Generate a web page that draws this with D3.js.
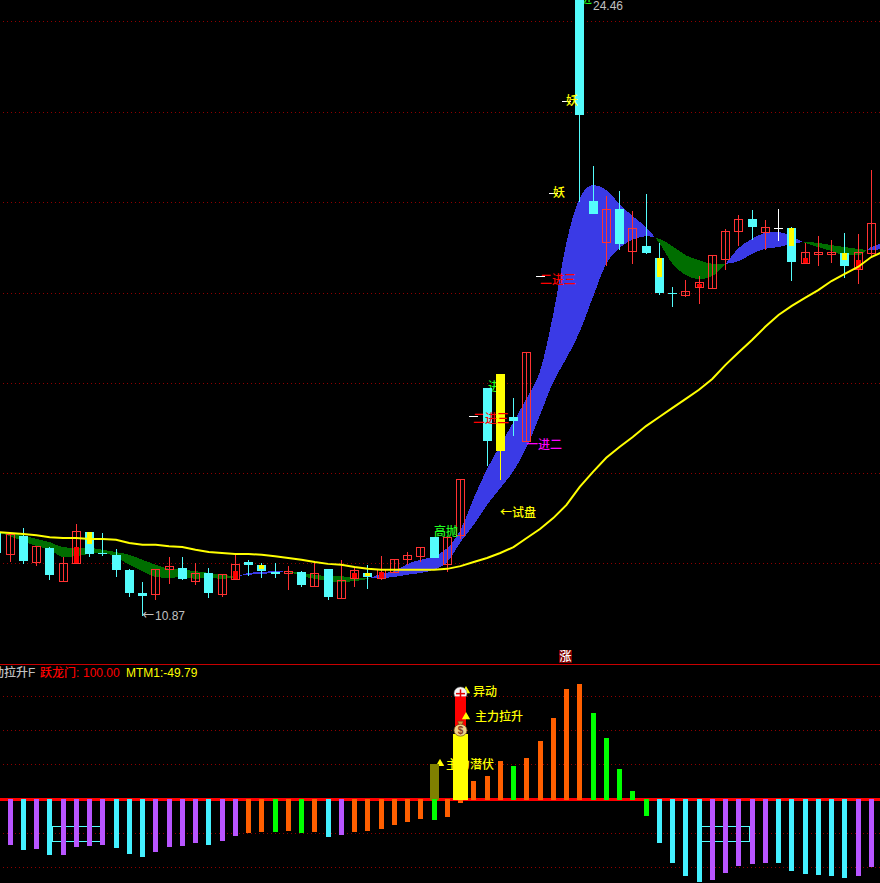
<!DOCTYPE html>
<meta charset="utf-8">
<style>
  html, body { margin: 0; padding: 0; background: #000; overflow: hidden; }
  text { font-family: "Noto Sans CJK SC", sans-serif; font-size: 12px; font-weight: 500; }
  .num { font-family: "Liberation Sans", sans-serif; font-weight: 400; }
</style>
<script src="https://d3js.org/d3.v7.min.js"></script>
<svg id="chart" width="880" height="883"></svg>

<script>
  // candles, first one is the sliver cut off at the left edge (index -1)
  var opens = [12.70, 12.24, 12.63, 12.06, 12.37, 11.64, 12.04, 12.72, 12.26, 12.22, 11.89, 11.38, 11.36, 11.91, 11.93, 11.64, 11.82, 11.36, 11.69, 12.06, 12.00, 11.84, 11.82, 11.84, 11.53, 11.91, 11.27, 11.71, 11.82, 11.71, 11.84, 12.13, 12.19, 12.61, 12.02, 12.65, 15.28, 15.90, 16.21, 15.26, 14.73, 18.37, 20.20, 22.23, 24.46, 20.03, 19.12, 19.85, 18.92, 19.03, 18.77, 18.00, 17.95, 18.13, 18.11, 18.75, 19.36, 19.63, 19.34, 19.43, 19.43, 18.66, 18.86, 18.86, 18.88, 18.53, 18.88];
  var highs = [12.77, 12.68, 12.81, 12.41, 12.39, 12.17, 12.90, 12.72, 12.70, 12.35, 11.91, 11.62, 11.91, 12.17, 12.17, 12.04, 11.93, 11.80, 12.22, 12.11, 12.04, 12.04, 11.97, 11.86, 12.08, 11.91, 12.11, 11.93, 12.00, 12.19, 12.13, 12.28, 12.39, 12.61, 12.61, 13.89, 15.28, 15.90, 16.21, 15.68, 16.69, 18.37, 20.20, 22.23, 24.46, 20.80, 20.14, 20.25, 19.81, 20.18, 19.10, 18.13, 18.28, 18.37, 18.83, 19.41, 19.72, 19.83, 19.61, 19.85, 19.45, 19.10, 19.25, 19.17, 19.32, 19.30, 20.71];
  var lows = [12.22, 12.06, 12.02, 11.97, 11.66, 11.64, 12.04, 12.17, 12.19, 11.73, 11.29, 10.87, 11.22, 11.58, 11.66, 11.55, 11.27, 11.29, 11.69, 11.75, 11.71, 11.71, 11.44, 11.51, 11.53, 11.22, 11.27, 11.51, 11.47, 11.66, 11.84, 12.00, 12.06, 12.15, 11.84, 12.57, 15.28, 14.18, 13.87, 14.84, 14.73, 18.37, 20.20, 22.23, 20.00, 19.74, 18.59, 18.94, 18.64, 18.86, 17.95, 17.69, 17.91, 17.75, 18.08, 18.50, 19.03, 19.17, 18.94, 19.14, 18.26, 18.66, 18.59, 18.66, 18.33, 18.19, 18.77];
  var closes = [12.26, 12.68, 12.08, 12.41, 11.78, 12.04, 12.74, 12.24, 12.24, 11.89, 11.38, 11.31, 11.91, 11.97, 11.69, 11.82, 11.38, 11.80, 12.02, 12.00, 11.86, 11.80, 11.86, 11.55, 11.82, 11.29, 11.66, 11.89, 11.73, 11.91, 12.13, 12.22, 12.39, 12.15, 12.61, 13.89, 15.28, 14.73, 14.51, 15.17, 16.69, 18.37, 20.20, 22.23, 21.92, 19.74, 19.85, 19.08, 19.43, 18.88, 18.00, 17.97, 18.04, 18.24, 18.83, 19.36, 19.63, 19.45, 19.45, 19.43, 18.68, 18.90, 18.90, 18.90, 18.59, 18.90, 19.54];
  var yellowCandle = 37;

  // narrow sticks drawn inside some candles
  var stickIdx = [5, 6, 17, 19, 26, 27, 28, 49, 52, 59, 60, 63, 64];
  var stickTop = [12.39, 12.72, 11.86, 12.00, 11.82, 11.82, 11.84, 18.77, 18.19, 19.43, 18.77, 18.88, 18.72];
  var stickBottom = [12.04, 12.46, 11.69, 11.91, 11.71, 11.75, 11.71, 18.35, 18.13, 19.03, 18.66, 18.72, 18.53];
  var stickKind = ["up", "warm", "up", "warm", "up", "warm", "up", "warm", "up", "warm", "up", "warm", "up"];

  // moving averages, index -1 .. 66 so they run off both edges
  var maFast = [12.72, 12.63, 12.52, 12.41, 12.33, 12.17, 12.19, 12.24, 12.26, 12.17, 12.00, 11.86, 11.73, 11.71, 11.73, 11.69, 11.71, 11.69, 11.73, 11.82, 11.84, 11.86, 11.84, 11.75, 11.69, 11.64, 11.62, 11.64, 11.69, 11.80, 11.86, 12.02, 12.11, 12.19, 12.37, 12.77, 13.47, 14.11, 14.64, 15.15, 15.68, 16.27, 17.53, 19.12, 20.09, 20.38, 20.27, 19.96, 19.69, 19.45, 19.10, 18.64, 18.39, 18.30, 18.37, 18.64, 18.99, 19.19, 19.32, 19.34, 19.25, 19.10, 19.01, 18.92, 18.83, 18.83, 19.01, 19.10];
  var maSlow = [12.74, 12.70, 12.65, 12.57, 12.50, 12.39, 12.37, 12.37, 12.33, 12.28, 12.22, 12.11, 12.00, 11.91, 11.89, 11.86, 11.82, 11.78, 11.75, 11.78, 11.80, 11.82, 11.84, 11.82, 11.78, 11.75, 11.75, 11.71, 11.71, 11.71, 11.73, 11.78, 11.82, 11.89, 12.06, 12.50, 12.88, 13.32, 13.69, 14.07, 14.60, 15.30, 16.03, 16.56, 17.14, 17.91, 18.64, 18.99, 19.17, 19.25, 19.19, 19.03, 18.83, 18.72, 18.64, 18.64, 18.70, 18.86, 18.97, 19.01, 19.08, 19.12, 19.10, 19.05, 19.01, 18.97, 18.94, 18.99];
  var maLong = [12.72, 12.70, 12.68, 12.65, 12.61, 12.59, 12.59, 12.57, 12.57, 12.55, 12.48, 12.44, 12.44, 12.41, 12.39, 12.33, 12.28, 12.26, 12.24, 12.24, 12.22, 12.19, 12.15, 12.11, 12.06, 12.02, 12.00, 11.95, 11.91, 11.89, 11.89, 11.89, 11.89, 11.89, 11.91, 11.97, 12.06, 12.15, 12.26, 12.39, 12.59, 12.79, 13.03, 13.32, 13.72, 14.05, 14.36, 14.60, 14.82, 15.06, 15.26, 15.46, 15.66, 15.86, 16.10, 16.41, 16.69, 16.96, 17.25, 17.51, 17.71, 17.89, 18.06, 18.26, 18.42, 18.57, 18.79, 18.92];

  var priceGrid = [24, 22, 20, 18, 16.01, 14.02, 12.03];

  // labels on the price pane
  var tagIdx = [32, 37, 39, 35, 40, 41, 42];
  var tagPrice = [12.72, 13.14, 14.66, 15.22, 18.30, 20.20, 22.23];
  var tagText = ["高抛", "←试盘", "一进二", "二进三", "二进三", "妖", "妖"];
  var tagKind = ["green", "yellow", "magenta", "red", "red", "yellow", "yellow"];
  var greenTagIdx = [36, 43];
  var greenTagPrice = [15.94, 24.50];
  var greenTagText = ["进", "进"];

  // lower pane
  var mtm = [-33.8, -37.5, -36.8, -41.2, -41.2, -35.3, -34.6, -33.8, -36.0, -40.5, -42.7, -39.0, -35.3, -34.6, -32.3, -33.8, -30.9, -27.2, -24.9, -24.2, -24.2, -23.5, -24.9, -24.2, -27.9, -26.4, -24.2, -23.5, -22.0, -19.0, -16.8, -14.6, -15.3, -13.1, -2.7, 13.6, 17.3, 28.4, 24.7, 30.6, 43.2, 60.2, 81.7, 85.4, 64.0, 45.4, 22.5, 6.2, -12.3, -32.3, -47.2, -56.8, -61.2, -59.8, -54.6, -49.4, -47.9, -47.2, -47.2, -53.1, -55.3, -56.0, -56.8, -58.3, -56.8, -49.79];
  var mtmKind = ["p", "c", "p", "c", "p", "p", "p", "p", "c", "c", "c", "p", "p", "p", "p", "c", "p", "p", "o", "o", "g", "o", "g", "o", "c", "p", "o", "o", "o", "o", "o", "o", "g", "o", "o", "o", "o", "o", "g", "o", "o", "o", "o", "o", "g", "g", "g", "g", "g", "c", "c", "c", "c", "p", "p", "p", "p", "p", "c", "c", "c", "c", "c", "c", "p", "p"];
  var mtmGrid = [76.44, 51.26, 26.07, -25.04, -50.22];

  var boxFrom = [3.15, 52.18];
  var boxTo = [6.77, 55.8];
  var boxTop = -19.6;
  var boxBottom = -30.7;

  var oliveIdx = 32, oliveValue = 26.2;
  var surgeIdx = 34, surgeYellow = 48.4, surgeRed = 76;

  var width = 880, height = 883;
  var svg = d3.select("#chart");
  svg.append("rect").attr("width", width).attr("height", height).attr("fill", "#000");

  var cyan = "#54fcfc", red = "#ff3232";
  var kindColor = { up: "#ff0000", warm: "#ffff00", green: "#20ff20", yellow: "#ffff00", magenta: "#ff00ff", red: "#ff0000" };
  var barColor = { p: "#b855ff", c: "#44f0ff", o: "#ff5f00", g: "#00ff00" };

  var x = d3.scaleLinear().domain([0, 65]).range([10, 871.25]);
  var y = d3.scaleLinear().domain([10.87, 24.46]).range([616, 0]);
  var yM = d3.scaleLinear().domain([0, 100]).range([799.5, 664.5]);
  var col = function (i) { return Math.floor(x(i)); };
  var py = function (p) { return Math.round(y(p)); };

  // grids
  svg.append("g").selectAll("line").data(priceGrid).enter().append("line")
    .attr("x1", 3).attr("x2", width)
    .attr("y1", function (d) { return py(d) + 0.5; })
    .attr("y2", function (d) { return py(d) + 0.5; })
    .attr("stroke", "#900000")
    .attr("stroke-dasharray", "1 3");

  // band between the two averages, blue while the fast one is on top
  var lineIdx = d3.range(-1, 67);
  var band = d3.area()
    .x(function (i) { return x(i); })
    .y0(function (i) { return y(maFast[i + 1]); })
    .y1(function (i) { return y(maSlow[i + 1]); })
    .curve(d3.curveMonotoneX);

  var runs = [];
  var runStart = x(-1);
  var diff = function (i) { return maFast[i + 1] - maSlow[i + 1]; };
  var sign = diff(-1) >= 0 ? 1 : -1;
  lineIdx.forEach(function (i) {
    var d = diff(i);
    if (d !== 0 && (d > 0 ? 1 : -1) !== sign) {
      // find where the sign flipped, back up over a run of exact ties
      var j = i - 1;
      while (diff(j) === 0) j--;
      var t = diff(j) / (diff(j) - d);
      var cross = x(j + t * (i - j));
      runs.push({ from: runStart, to: cross, sign: sign });
      runStart = cross;
      sign = -sign;
    }
  });
  runs.push({ from: runStart, to: x(66), sign: sign });

  var defs = svg.append("defs");
  runs.forEach(function (r, n) {
    defs.append("clipPath").attr("id", "run" + n).append("rect")
      .attr("x", r.from).attr("y", 0).attr("width", r.to - r.from).attr("height", 664);
    svg.append("path")
      .attr("d", band(lineIdx))
      .attr("clip-path", "url(#run" + n + ")")
      .attr("fill", r.sign > 0 ? "#3a3ae6" : "#006e00")
      .attr("shape-rendering", "crispEdges");
  });

  // green tags sit under the candles
  svg.append("g").selectAll("text").data(greenTagIdx).enter().append("text")
    .attr("x", function (d) { return col(d) + 1; })
    .attr("y", function (d, n) { return y(greenTagPrice[n]); })
    .attr("dy", "0.36em")
    .attr("fill", kindColor.green)
    .text(function (d, n) { return greenTagText[n]; });

  // candles
  var candles = svg.append("g").attr("shape-rendering", "crispEdges");
  opens.forEach(function (o, n) {
    var i = n - 1, c = closes[n], h = highs[n], l = lows[n];
    var color = c > o ? red : c < o ? cyan : "#fff";
    if (i === yellowCandle) color = "#ffff00";
    if (i === 58) color = "#fff"; // open and close equal, drawn white by the software
    var cx = col(i);
    var top = Math.max(o, c), bottom = Math.min(o, c);
    candles.append("rect")
      .attr("x", cx).attr("y", py(h)).attr("width", 1)
      .attr("height", Math.max(1, py(l) - py(h)))
      .attr("fill", color);
    var bodyH = py(bottom) - py(top);
    if (c > o) {
      // hollow
      candles.append("rect").attr("x", cx - 4 + 0.5).attr("y", py(top) + 0.5)
        .attr("width", 8).attr("height", Math.max(1, bodyH))
        .attr("fill", "none").attr("stroke", color);
    } else {
      candles.append("rect").attr("x", cx - 4).attr("y", py(top))
        .attr("width", 9).attr("height", Math.max(1, bodyH))
        .attr("fill", color);
    }
  });

  candles.selectAll(".stick").data(stickIdx).enter().append("rect")
    .attr("class", "stick")
    .attr("x", function (d) { return col(d) - 2; })
    .attr("width", 5)
    .attr("y", function (d, n) { return py(stickTop[n]); })
    .attr("height", function (d, n) { return py(stickBottom[n]) - py(stickTop[n]); })
    .attr("fill", function (d, n) { return kindColor[stickKind[n]]; });

  // long average
  svg.append("path")
    .attr("d", d3.line()
      .x(function (i) { return x(i); })
      .y(function (i) { return y(maLong[i + 1]); })(lineIdx))
    .attr("fill", "none")
    .attr("stroke", "#ffff00")
    .attr("stroke-width", 2);

  // tags
  svg.append("g").selectAll("text").data(tagIdx).enter().append("text")
    .attr("x", function (d) { return col(d); })
    .attr("y", function (d, n) { return y(tagPrice[n]); })
    .attr("dy", "0.36em")
    .attr("fill", function (d, n) { return kindColor[tagKind[n]]; })
    .text(function (d, n) { return tagText[n]; });

  // extreme prices
  svg.append("text").attr("class", "num")
    .attr("x", col(43) + 14).attr("y", y(24.46) + 10)
    .attr("fill", "#c0c0c0").text(d3.format(".2f")(24.46));
  svg.append("text")
    .attr("x", col(10)).attr("y", y(10.87)).attr("dy", "0.36em")
    .attr("fill", "#c0c0c0").text("←");
  svg.append("text").attr("class", "num")
    .attr("x", col(10) + 13).attr("y", y(10.87)).attr("dy", "0.36em")
    .attr("fill", "#c0c0c0").text(d3.format(".2f")(10.87));

  // lower pane
  svg.append("line").attr("x1", 0).attr("x2", width).attr("y1", 664.5).attr("y2", 664.5)
    .attr("stroke", "#c80000");

  svg.append("g").selectAll("line").data(mtmGrid).enter().append("line")
    .attr("x1", 3).attr("x2", width)
    .attr("y1", function (d) { return Math.round(yM(d)) + 0.5; })
    .attr("y2", function (d) { return Math.round(yM(d)) + 0.5; })
    .attr("stroke", "#900000")
    .attr("stroke-dasharray", "1 3");

  svg.append("rect").attr("x", 0).attr("y", 798).attr("width", width).attr("height", 3)
    .attr("fill", "#ff0000").attr("shape-rendering", "crispEdges");

  svg.append("g").selectAll("rect").data(boxFrom).enter().append("rect")
    .attr("x", function (d) { return Math.round(x(d)) + 0.5; })
    .attr("y", Math.round(yM(boxTop)) + 0.5)
    .attr("width", function (d, n) { return Math.round(x(boxTo[n])) - Math.round(x(d)); })
    .attr("height", Math.round(yM(boxBottom)) - Math.round(yM(boxTop)))
    .attr("fill", "none")
    .attr("stroke", cyan)
    .attr("shape-rendering", "crispEdges");

  // lower tags that sit behind the bars
  var triangle = d3.symbol().type(d3.symbolTriangle).size(30);
  svg.append("path").attr("d", triangle())
    .attr("transform", "translate(" + (col(32) + 6) + "," + (yM(oliveValue) - 0.5) + ")")
    .attr("fill", "#ffff00");
  svg.append("text").attr("x", col(32) + 12).attr("y", yM(26)).attr("dy", "0.36em")
    .attr("fill", "#ffff00").text("主力潜伏");

  var bars = svg.append("g").attr("shape-rendering", "crispEdges");

  bars.append("rect")
    .attr("x", col(oliveIdx) - 4).attr("width", 9)
    .attr("y", Math.round(yM(oliveValue))).attr("height", 800 - Math.round(yM(oliveValue)))
    .attr("fill", "#808000");

  bars.selectAll(".mtm").data(mtm).enter().append("rect")
    .attr("class", "mtm")
    .attr("x", function (d, i) { return col(i) - 2; })
    .attr("width", 5)
    .attr("y", function (d) { return d >= 0 ? Math.round(yM(d)) : 799; })
    .attr("height", function (d) { return d >= 0 ? 800 - Math.round(yM(d)) : Math.round(yM(d)) - 799; })
    .attr("fill", function (d, i) { return barColor[mtmKind[i]]; });

  bars.append("rect")
    .attr("x", col(surgeIdx) - 5).attr("width", 11)
    .attr("y", Math.round(yM(surgeRed))).attr("height", Math.round(yM(surgeYellow)) - Math.round(yM(surgeRed)))
    .attr("fill", "#ff0000");
  bars.append("rect")
    .attr("x", col(surgeIdx) - 7).attr("width", 15)
    .attr("y", Math.round(yM(surgeYellow))).attr("height", 800 - Math.round(yM(surgeYellow)))
    .attr("fill", "#ffff00");

  // lower tags on top
  svg.append("path").attr("d", triangle())
    .attr("transform", "translate(" + (col(surgeIdx) + 6) + "," + (yM(surgeRed) + 20) + ")")
    .attr("fill", "#ffff00");
  svg.append("text").attr("x", col(surgeIdx) + 15).attr("y", yM(surgeRed) + 20).attr("dy", "0.36em")
    .attr("fill", "#ffff00").text("主力拉升");
  svg.append("path").attr("d", triangle())
    .attr("transform", "translate(" + (col(surgeIdx) + 6) + "," + (yM(surgeRed) - 6) + ")")
    .attr("fill", "#ffff00");
  svg.append("text").attr("x", col(surgeIdx) + 13).attr("y", yM(surgeRed) - 5).attr("dy", "0.36em")
    .attr("fill", "#ffff00").text("异动");

  // alert badge at the top of the red bar
  var bx = col(surgeIdx) + 0.5, by = yM(surgeRed) - 3.5;
  svg.append("circle").attr("cx", bx).attr("cy", by).attr("r", 6.5)
    .attr("fill", "#f4f4f4").attr("stroke", "#777").attr("stroke-width", 0.5);
  svg.append("rect").attr("x", bx - 5.5).attr("y", by + 3).attr("width", 11).attr("height", 4).attr("fill", "#ff0000");
  svg.append("rect").attr("x", bx - 4.5).attr("y", by - 0.5).attr("width", 9).attr("height", 1.5).attr("fill", "#e00000");
  svg.append("rect").attr("x", bx - 0.75).attr("y", by - 4).attr("width", 1.5).attr("height", 8).attr("fill", "#e00000");

  // money bag on top of the yellow bar
  var mx = col(surgeIdx) + 0.5, my = yM(surgeYellow) - 4;
  svg.append("path")
    .attr("d", "M" + (mx - 3) + "," + (my - 9) + "h6l-1.5,3.5h-3z")
    .attr("fill", "#d89a3c").attr("stroke", "#5a3a10").attr("stroke-width", 0.5);
  svg.append("ellipse").attr("cx", mx).attr("cy", my).attr("rx", 6.5).attr("ry", 6)
    .attr("fill", "#f0d28a").attr("stroke", "#6a4a18").attr("stroke-width", 0.7);
  svg.append("text").attr("class", "num").attr("x", mx).attr("y", my).attr("dy", "0.36em")
    .attr("text-anchor", "middle").attr("fill", "#8a3a20").style("font-size", "10px").style("font-weight", "bold").text("$");

  // title row of the lower pane
  var title1 = svg.append("text").attr("x", -8).attr("y", 677).attr("fill", "#c0c0c0").text("动拉升");
  title1.append("tspan").attr("class", "num").text("F");
  var title2 = svg.append("text").attr("x", 40).attr("y", 677).attr("fill", "#ff0000").text("跃龙门");
  title2.append("tspan").attr("class", "num").text(":");
  title2.append("tspan").attr("class", "num").attr("x", 83).text(d3.format(".2f")(100));
  svg.append("text").attr("class", "num").attr("x", 126).attr("y", 677).attr("fill", "#ffff00").text("MTM1:-49.79");

  // rising flag above the pane line
  svg.append("rect").attr("x", 559).attr("y", 650).attr("width", 13).attr("height", 13).attr("fill", "#800000");
  svg.append("text").attr("x", 565.5).attr("y", 656.5).attr("dy", "0.36em").attr("text-anchor", "middle")
    .attr("fill", "#fff").text("涨");
</script>
